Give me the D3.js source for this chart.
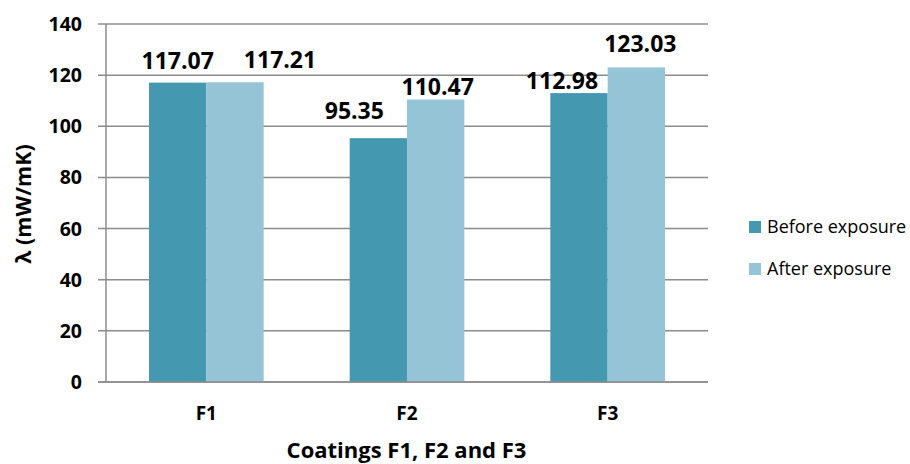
<!DOCTYPE html>
<html>
<head>
<meta charset="utf-8">
<script src="https://cdn.jsdelivr.net/npm/d3@7"></script>
<style>
  html, body { margin: 0; padding: 0; background: #fff; }
  svg { display: block; font-family: "Open Sans", "Noto Sans", sans-serif; }
</style>
</head>
<body>
<svg id="chart" width="910" height="464"></svg>
<script>
const categories = ["F1", "F2", "F3"];
const seriesNames = ["Before exposure", "After exposure"];
const beforeValues = [117.07, 95.35, 112.98];
const afterValues = [117.21, 110.47, 123.03];
const yTicks = [0, 20, 40, 60, 80, 100, 120, 140];
const colors = ["#4499B1", "#94C4D6"];
// manual label placement offsets (layout only), [before, after] per category
const labelShiftX = [[0, 45], [-24, 2], [-17, 4]];
const labelGapY = [[14, 14], [19, 5], [4, 15]];

const svg = d3.select("#chart");
const m = { left: 106, right: 202, top: 24, bottom: 82 };
const W = 910, H = 464;
const x0 = m.left, x1 = W - m.right, yTop = m.top, yBot = H - m.bottom;

const x = d3.scaleBand().domain(categories).range([x0, x1]).paddingInner(0).paddingOuter(0);
const inner = d3.scaleBand().domain(seriesNames).range([0, x.bandwidth()]).paddingInner(0).paddingOuter(0.75);
const y = d3.scaleLinear().domain([0, 140]).range([yBot, yTop]);

// gridlines with tick marks extending left
svg.append("g").selectAll("line").data(yTicks).join("line")
  .attr("x1", x0 - 8).attr("x2", x1)
  .attr("y1", d => y(d)).attr("y2", d => y(d))
  .attr("stroke", "#8c8c8c").attr("stroke-width", 1.5);

// y axis line
svg.append("line").attr("x1", x0).attr("x2", x0).attr("y1", yTop).attr("y2", yBot)
  .attr("stroke", "#8c8c8c").attr("stroke-width", 1.5);

// bars
const data = categories.map((c, i) => ({ c, i, vals: [beforeValues[i], afterValues[i]] }));
const groups = svg.append("g").selectAll("g").data(data).join("g")
  .attr("transform", d => `translate(${x(d.c)},0)`);
groups.selectAll("rect").data(d => d.vals.map((v, j) => ({ v, s: seriesNames[j], j })))
  .join("rect")
  .attr("x", d => inner(d.s)).attr("width", inner.bandwidth())
  .attr("y", d => y(d.v)).attr("height", d => y(0) - y(d.v))
  .attr("fill", d => colors[d.j]);

// bottom axis line over bars
svg.append("line").attr("x1", x0 - 8).attr("x2", x1).attr("y1", y(0)).attr("y2", y(0))
  .attr("stroke", "#8c8c8c").attr("stroke-width", 1.5);

// data labels
groups.selectAll("text").data(d => d.vals.map((v, j) => ({ v, s: seriesNames[j], j, i: d.i })))
  .join("text")
  .attr("x", d => inner(d.s) + inner.bandwidth() / 2 + labelShiftX[d.i][d.j])
  .attr("y", d => y(d.v) - labelGapY[d.i][d.j])
  .attr("text-anchor", "middle")
  .attr("font-size", 23).attr("font-weight", "bold").attr("fill", "#000")
  .text(d => d.v.toFixed(2));

// y tick labels
svg.append("g").selectAll("text").data(yTicks).join("text")
  .attr("x", x0 - 24).attr("y", d => y(d)).attr("dy", "0.36em")
  .attr("text-anchor", "end").attr("font-size", 19.5).attr("font-weight", "bold")
  .text(d => d);

// x category labels
svg.append("g").selectAll("text").data(categories).join("text")
  .attr("x", d => x(d) + x.bandwidth() / 2).attr("y", 420)
  .attr("text-anchor", "middle").attr("font-size", 19).attr("font-weight", "bold")
  .text(d => d);

// axis titles
svg.append("text").attr("x", 406.5).attr("y", 458).attr("text-anchor", "middle")
  .attr("font-size", 22).attr("font-weight", "bold").text("Coatings F1, F2 and F3");
svg.append("text").attr("transform", "translate(31,204) rotate(-90)")
  .attr("text-anchor", "middle").attr("font-size", 21.5).attr("font-weight", "bold")
  .text("λ (mW/mK)");

// legend
const leg = svg.append("g").attr("transform", "translate(749,221)");
const li = leg.selectAll("g").data(seriesNames).join("g")
  .attr("transform", (d, i) => `translate(0,${i * 42})`);
li.append("rect").attr("width", 12).attr("height", 12).attr("fill", (d, i) => colors[i]);
li.append("text").attr("x", 18).attr("y", 6).attr("dy", "0.36em")
  .attr("font-size", 18).text(d => d);
</script>
</body>
</html>
